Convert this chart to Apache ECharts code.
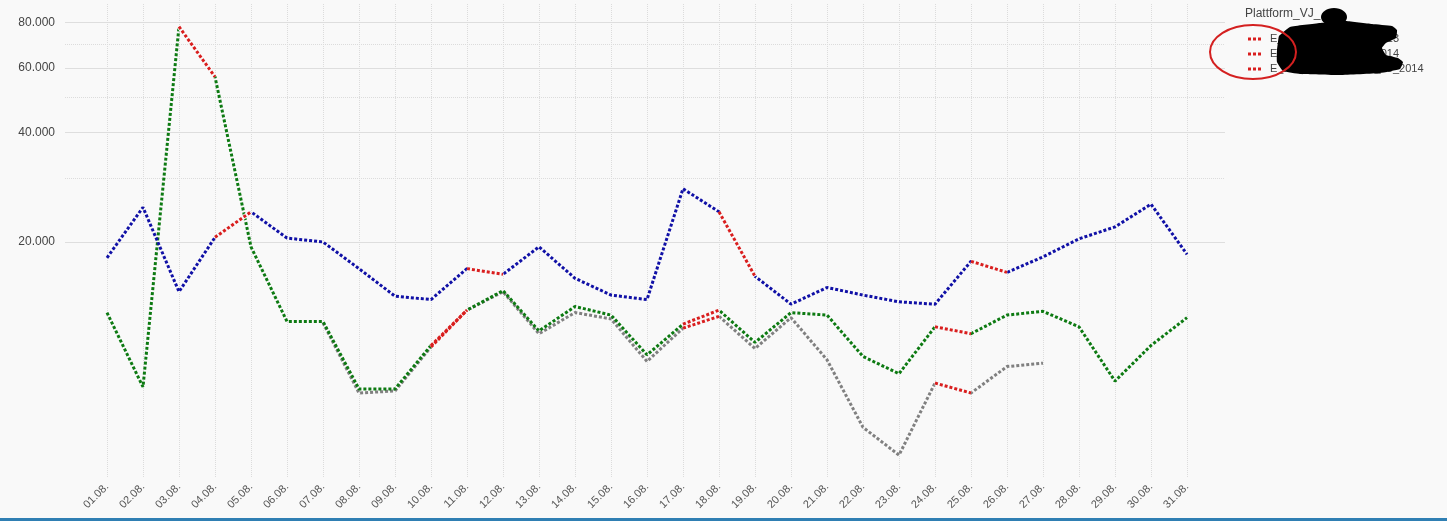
<!DOCTYPE html>
<html>
<head>
<meta charset="utf-8">
<script src="https://cdn.jsdelivr.net/npm/echarts@6/dist/echarts.min.js"></script>
<style>
html,body{margin:0;padding:0;background:#f9f9f9;}
#c{width:1447px;height:521px;}
</style>
</head>
<body>
<div id="c"></div>
<script>
const days = ['01.08.','02.08.','03.08.','04.08.','05.08.','06.08.','07.08.','08.08.','09.08.','10.08.','11.08.','12.08.','13.08.','14.08.','15.08.','16.08.','17.08.','18.08.','19.08.','20.08.','21.08.','22.08.','23.08.','24.08.','25.08.','26.08.','27.08.','28.08.','29.08.','30.08.','31.08.'];

const blueValues = [18100,24900,14600,20600,24200,20500,20000,16900,14200,13900,16900,16300,19400,15900,14300,13900,28000,24200,16100,13500,15000,14300,13700,13500,17700,16500,18200,20400,22000,25400,18500];
const greenValues = [12800,8000,78000,56800,19400,12100,12100,7900,7900,10400,13000,14700,11400,13300,12600,9800,11900,13000,10600,12800,12600,9700,8700,11700,11200,12600,12900,11700,8300,10400,12400];
const grayValues = [null,null,null,null,null,null,12000,7700,7800,10300,13000,14600,11200,12800,12300,9400,11600,12500,10200,12400,9500,6200,5200,8200,7700,9100,9300,null,null,null,null];

// start index of highlighted (red) segments per series
const redStartsBlue = [3,10,17,24];
const redStartsGreen = [2,9,16,23];
const redStartsGray = [9,16,23];

const yLabelTicks = [20000,40000,60000,80000];
const yMinorTicks = [30000,50000,70000];

const legendNames = ['E_Kanal_PlattformVJ2013','E_Kanal_PlattformVJ2014','E_Kanal_PlattformVJ_08_2014'];
const legendTitle = 'Plattform_VJ_';

const RED = '#d91e1e';
const BG = '#f9f9f9';
const dash = [3,2];

function redData(base, starts){
  const d = base.map(()=>null);
  starts.forEach(s=>{ d[s]=base[s]; d[s+1]=base[s+1]; });
  return d;
}
function fmt(v){ return String(Math.round(v)).replace(/\B(?=(\d{3})+(?!\d))/g,'.'); }

function lineSeries(name, data, color, z, solid, width){
  return {
    name:name, type:'line', xAxisIndex:1, yAxisIndex:2, data:data,
    showSymbol:false, symbol:'none', connectNulls:false, z:z,
    lineStyle:{color:color, width:width || 3, type:solid ? 'solid' : dash, cap:'butt'},
    itemStyle:{color:color},
    emphasis:{disabled:true}
  };
}

const chart = echarts.init(document.getElementById('c'), null, {renderer:'canvas'});
const option = {
  backgroundColor:BG,
  animation:false,
  grid:[
    {left:65, right:222, top:4, bottom:43},
    {left:107, right:260, top:4, bottom:43}
  ],
  xAxis:[
    {gridIndex:0, type:'value', min:0, max:1, show:false},
    {gridIndex:1, type:'category', data:days, boundaryGap:false,
      axisLine:{show:false}, axisTick:{show:false},
      axisLabel:{rotate:45, interval:0, fontSize:11, color:'#555', margin:7, fontFamily:'Liberation Sans, Arial, sans-serif'},
      splitLine:{show:true, lineStyle:{color:'#dcdcdc', type:'dotted', width:1}}
    }
  ],
  yAxis:[
    {gridIndex:0, type:'log', logBase:10, min:4500, max:90000,
      axisLine:{show:false},
      axisTick:{show:false, customValues:yLabelTicks},
      axisLabel:{customValues:yLabelTicks, formatter:fmt, fontSize:12, color:'#444', margin:10, fontFamily:'Liberation Sans, Arial, sans-serif'},
      splitLine:{show:true, lineStyle:{color:'#dedede', type:'solid', width:1}}
    },
    {gridIndex:0, type:'log', logBase:10, min:4500, max:90000, position:'left',
      axisLine:{show:false},
      axisTick:{show:false, customValues:yMinorTicks},
      axisLabel:{show:false, customValues:yMinorTicks},
      splitLine:{show:true, lineStyle:{color:'#dcdcdc', type:'dotted', width:1}}
    },
    {gridIndex:1, type:'log', logBase:10, min:4500, max:90000, show:false,
      splitLine:{show:false}}
  ],
  legend:{
    orient:'vertical', left:1243, top:28, itemWidth:13, itemHeight:3, itemGap:3,
    textStyle:{fontSize:11, color:'#444', lineHeight:12, padding:[0,0,0,4], fontFamily:'Liberation Sans, Arial, sans-serif'},
    selectedMode:false,
    data:legendNames.map(n=>({name:n, icon:'path://M0,0h3v3h-3zM5,0h3v3h-3zM10,0h3v3h-3z', itemStyle:{color:RED}}))
  },
  series:[
    lineSeries(legendNames[2], grayValues, '#808080', 2),
    lineSeries(legendNames[1], greenValues, '#0d7a12', 3),
    lineSeries(legendNames[0], blueValues, '#1010a6', 4),
    lineSeries('mask_gray', redData(grayValues, redStartsGray), BG, 5, true, 4.5),
    lineSeries('mask_green', redData(greenValues, redStartsGreen), BG, 5, true, 4.5),
    lineSeries('mask_blue', redData(blueValues, redStartsBlue), BG, 5, true, 4.5),
    lineSeries('hl_gray', redData(grayValues, redStartsGray), RED, 6),
    lineSeries('hl_green', redData(greenValues, redStartsGreen), RED, 6),
    lineSeries('hl_blue', redData(blueValues, redStartsBlue), RED, 6)
  ],
  graphic:[
    {type:'text', left:1245, top:8, z:10, style:{text:legendTitle, fontSize:12, fill:'#444', fontFamily:'Liberation Sans, Arial, sans-serif'}},
    {type:'ellipse', z:20, shape:{cx:1334, cy:17, rx:13, ry:9}, style:{fill:'#000'}},
    {type:'polygon', z:20, shape:{smooth:0.12, points:[[1279,36],[1290,27],[1320,23],[1346,21],[1372,24],[1392,26],[1397,30],[1396,38],[1386,43],[1382,48],[1386,55],[1398,58],[1403,62],[1400,69],[1380,73],[1340,75],[1300,74],[1283,71],[1277,62],[1277,50],[1278,42]]}, style:{fill:'#000'}},
    {type:'ellipse', z:21, shape:{cx:1253, cy:52, rx:43, ry:27}, style:{fill:'none', stroke:'#d42020', lineWidth:2}},
    {type:'rect', z:30, shape:{x:0, y:518, width:1447, height:3}, style:{fill:'#2f7fb3'}}
  ]
};
chart.setOption(option);
</script>
</body>
</html>
